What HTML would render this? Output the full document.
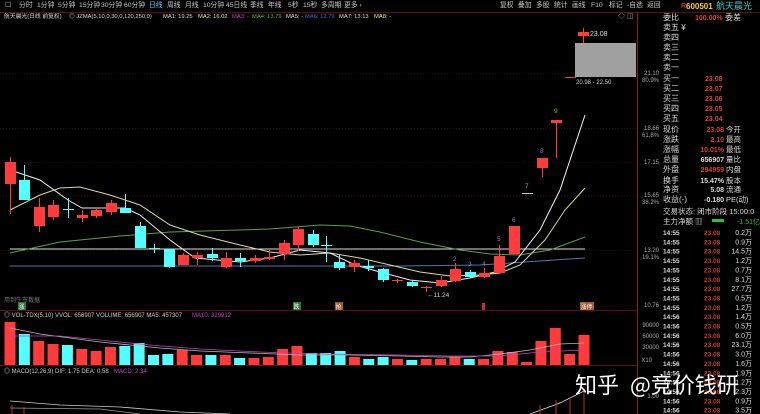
<!DOCTYPE html>
<html><head><meta charset="utf-8"><style>
html,body{margin:0;padding:0;background:#000;width:760px;height:414px;overflow:hidden}
svg{display:block;font-family:"Liberation Sans","Noto Sans CJK SC",sans-serif}
</style></head><body>
<svg width="760" height="414" viewBox="0 0 760 414" xmlns="http://www.w3.org/2000/svg">
<rect width="760" height="414" fill="#000"/>
<g font-size="6.8" fill="#c8c8c8">
<text x="5" y="7">☐</text>
<text x="19" y="7">分时</text><text x="37" y="7">1分钟</text><text x="58" y="7">5分钟</text><text x="79" y="7">15分钟</text><text x="101" y="7">30分钟</text><text x="124" y="7">60分钟</text>
<text x="149" y="7" fill="#6cf">日线</text><text x="167" y="7">周线</text><text x="185" y="7">月线</text><text x="203" y="7">10分钟</text><text x="226" y="7">45日线</text><text x="250" y="7">季线</text><text x="268" y="7">年线</text><text x="288" y="7">5秒</text><text x="303" y="7">15秒</text><text x="321" y="7">多周期</text><text x="344" y="7">更多 ›</text>
<text x="500" y="7">复权</text><text x="518" y="7">叠加</text><text x="536" y="7">多股</text><text x="554" y="7">统计</text><text x="572" y="7">画线</text><text x="591" y="7">F10</text><text x="609" y="7">标记</text><text x="627" y="7">-自选</text><text x="647" y="7">返回</text>
</g>
<text x="681" y="8" font-size="7" fill="#ff5050">R</text>
<text x="686" y="9" font-size="8" fill="#ffd700" font-weight="bold">600501</text>
<text x="716" y="9" font-size="9" fill="#4cc">航天晨光</text>
<g font-size="5.8">
<text x="4" y="18" fill="#ddd">航天晨光(日线 前复权)</text>
<text x="69" y="18" fill="#ddd">◎ JZMA(5,10,0,30,0,120,250,0)</text>
<text x="163" y="18" fill="#ddd">MA1: 19.25</text>
<text x="198" y="18" fill="#e8e890">MA2: 16.02</text>
<text x="232" y="18" fill="#d040d0">MA3: -</text>
<text x="252" y="18" fill="#40c040">MA4: 13.79</text>
<text x="286" y="18" fill="#ddd">MA5: -</text>
<text x="305" y="18" fill="#4070d0">MA6: 12.79</text>
<text x="339" y="18" fill="#ddd">MA7: 13.13</text>
<text x="374" y="18" fill="#e8e890">MA8: -</text>
</g>
<text x="618" y="18" font-size="7" fill="#aaa">◇ ◫</text>
<line x1="637.5" y1="12" x2="637.5" y2="414" stroke="#8a1a1a"/>
<line x1="0" y1="12.5" x2="760" y2="12.5" stroke="#5a1010"/>
<line x1="0" y1="310.5" x2="637" y2="310.5" stroke="#5a1010"/>
<line x1="0" y1="365.5" x2="637" y2="365.5" stroke="#5a1010"/>
<g stroke="#3a0a0a" stroke-dasharray="1,2">
<line x1="0" y1="73.5" x2="637" y2="73.5"/><line x1="0" y1="128.5" x2="637" y2="128.5"/><line x1="0" y1="162.5" x2="637" y2="162.5"/><line x1="0" y1="195.5" x2="637" y2="195.5"/><line x1="0" y1="250.5" x2="637" y2="250.5"/><line x1="0" y1="305.5" x2="637" y2="305.5"/>
</g>
<g font-size="6" fill="#aaa" text-anchor="end">
<text x="659" y="75">21.10</text><text x="659" y="82">80.9%</text>
<text x="659" y="130">18.66</text><text x="659" y="137">61.8%</text>
<text x="659" y="164">17.15</text>
<text x="659" y="197">15.65</text><text x="659" y="204">38.2%</text>
<text x="659" y="252">13.20</text><text x="659" y="259">19.1%</text>
<text x="659" y="307">10.76</text>
<text x="659" y="327">90000</text><text x="659" y="338">60000</text><text x="659" y="349">30000</text><text x="652" y="362">X10</text>
<text x="659" y="398">1.00</text>
</g>
<g fill="none" stroke-width="1">
<polyline stroke="#e0e0e0" points="10,249 585,249"/>
<polyline stroke="#4a7ab0" points="10,266 400,266 480,265 585,258"/>
<polyline stroke="#5aa040" points="10,253 60,242 120,236 170,232 270,229 320,225 350,226 380,232 420,242 460,250 490,254 520,255 550,250 585,237"/>
<polyline stroke="#d8d8a0" points="10,210 40,195 60,188 80,187 110,195 140,205 170,225 200,235 240,245 270,252 300,255 330,253 360,258 390,265 420,272 450,276 480,275 500,273 520,265 545,240 565,210 585,188"/>
<polyline stroke="#f0f0f0" points="10,170 40,180 68,200 82,208 125,208 140,215 170,240 195,258 240,262 270,258 300,250 330,253 355,265 380,272 410,280 440,283 470,278 495,272 515,262 540,230 560,190 585,115"/>
</g>
<g id="c"></g>
<g font-size="6.5" fill="#9a7ad0">
<text x="453" y="261">2</text><text x="468" y="266">3</text><text x="482" y="266">4</text><text x="497" y="241">5</text><text x="512" y="222">6</text><text x="525" y="188" fill="#aaa">7</text><text x="540" y="153">8</text><text x="554" y="113" fill="#5c5">9</text>
</g>
<text x="427" y="297" font-size="6.5" fill="#ccc">←11.24</text>
<rect x="575" y="43" width="61" height="34" fill="#a0a0a0"/>
<text x="576" y="84" font-size="6" fill="#ccc">20.98 - 22.50</text>
<text x="590" y="36" font-size="7" fill="#ddd">23.08</text>
<text x="4" y="302" font-size="6" fill="#777">用到牛市数据</text>
<g font-size="6">
<rect x="18" y="302" width="8" height="8" fill="#2a7a3a"/><text x="18.5" y="309" fill="#fff">涨</text>
<rect x="293" y="302" width="8" height="8" fill="#2a7a3a"/><text x="293.5" y="309" fill="#fff">跌</text>
<rect x="335" y="302" width="8" height="8" fill="#a05a30"/><text x="335.5" y="309" fill="#fff">抢</text>
<rect x="482" y="303" width="3" height="7" fill="#c03030"/>
<rect x="580" y="302" width="14" height="8" fill="#a05a30"/><text x="580.5" y="309" fill="#fff">涨停</text>
</g>
<g font-size="6">
<text x="4" y="317" fill="#ccc">◎ VOL-TDX(5,10) VVOL: 656907 VOLUME: 656907 MA5: 457307</text>
<text x="192" y="317" fill="#c040c0">MA10: 329912</text>
<text x="4" y="373" fill="#ccc">◎ MACD(12,26,9) DIF: 1.75 DEA: 0.58</text>
<text x="114" y="373" fill="#c040c0">MACD: 2.34</text>
</g>
<g id="v"></g>
<polyline fill="none" stroke="#bbb" stroke-width="0.8" points="10,328 40,334 70,338 100,342 130,345 160,348 200,351 250,353 300,355 350,355 400,356 440,357 470,357 500,354 530,350 560,344 584,343"/>
<polyline fill="none" stroke="#c040c0" stroke-width="0.8" points="10,336 60,336 100,340 150,345 200,349 260,352 320,354 400,355 450,356 500,356 540,352 584,350"/>
<polyline fill="none" stroke="#ccc" stroke-width="0.8" points="10,401 60,405 120,407 180,412 230,414"/>
<polyline fill="none" stroke="#999" stroke-width="0.8" points="10,408 100,409 140,414"/>
<polyline fill="none" stroke="#ddd" stroke-width="0.8" points="530,414 560,403 584,391"/>
<g stroke="#c03030"><line x1="556" y1="414" x2="556" y2="400"/><line x1="570" y1="414" x2="570" y2="397"/><line x1="584" y1="414" x2="584" y2="392"/><line x1="540" y1="414" x2="540" y2="405"/><line x1="12" y1="414" x2="12" y2="405"/><line x1="24" y1="414" x2="24" y2="407"/></g>
<g font-size="8" fill="#ddd" id="rp"></g>
<text x="575" y="393" font-size="22" fill="#fff" font-family="'Noto Sans CJK SC',sans-serif">知乎</text>
<text x="630" y="393" font-size="22" fill="#fff" font-family="'Noto Sans CJK SC',sans-serif">@竞价钱研</text>
<script>
var ns="http://www.w3.org/2000/svg";
function el(p,t,a,txt){var e=document.createElementNS(ns,t);for(var k in a)e.setAttribute(k,a[k]);if(txt!=null)e.textContent=txt;p.appendChild(e);return e;}
var R="#ff3b3b",C="#54ffff";
var cd=[[10,162,184,157,214,R],[24,180,200,165,200,C],[39,207,226,198,232,R],[53,205,217,200,220,R],[68,209,209,198,218,C],[82,215,218,210,222,R],[96,210,216,207,218,R],[111,203,212,200,215,R],[125,208,213,194,213,C],[140,226,248,222,248,C],[154,248,248,244,253,C],[169,249,267,249,268,C],[183,255,265,253,265,R],[197,255,258,252,265,R],[212,254,258,248,261,C],[226,258,267,252,268,R],[240,258,261,253,267,C],[255,258,261,255,263,R],[269,257,259,250,260,R],[284,243,254,240,260,R],[298,229,245,227,251,R],[313,234,245,230,247,C],[326,245,245,236,262,C],[339,262,268,255,270,C],[354,263,267,260,272,R],[368,266,268,260,271,C],[383,269,280,268,282,C],[397,280,281,279,283,R],[412,282,286,280,287,C],[426,287,288,286,292,R],[441,280,286,276,287,R],[455,269,281,263,282,R],[470,272,277,270,278,C],[484,273,277,268,278,R],[499,256,273,245,274,R],[514,226,254,226,254,R],[527,193,194,193,194,"#ccc"],[542,158,168,158,177,R],[556,120,123,120,158,R],[570,77,78,77,78,R],[583,32,36,28,43,R]];
var g=document.getElementById("c");
cd.forEach(function(c){el(g,"line",{x1:c[0]+0.5,y1:c[3],x2:c[0]+0.5,y2:c[4],stroke:c[5]});var h=Math.max(1,c[2]-c[1]);el(g,"rect",{x:c[0]-5,y:c[1],width:11,height:h,fill:c[5]});});
var vt=[322,334,341,344,345,349,351,347,346,343,355,354,350,355,355,355,358,358,357,349,346,353,353,351,357,359,357,359,360,359,359,357,359,359,351,352,362,341,328,354,335];
var vc="RCRRCRRRCCCCRRCRCRRRRCCCRCCRCRRRCRRRRRRRR";
var v=document.getElementById("v");
vt.forEach(function(t,i){var x=10+i*14.35;el(v,"rect",{x:x-5.5,y:t,width:11,height:365-t,fill:vc[i]=="R"?R:C});});
var rp=document.getElementById("rp");
var L=[["委比",17],["卖五 ¥",27],["卖四",37],["卖三",47],["卖二",57],["卖一",67],["买一",78],["买二",88],["买三",98],["买四",108],["买五",118],["现价",129],["涨跌",139],["涨幅",149],["总量",159],["外盘",169],["换手",180],["净资",189],["收益(-)",199]];
L.forEach(function(a){el(rp,"text",{x:663,y:a[1]+3},a[0]);});
el(rp,"text",{x:695,y:20,fill:"#e04040","font-size":"7","font-weight":"bold"},"100.00%");
el(rp,"text",{x:725,y:20},"委差");
[78,88,98,108,118].forEach(function(y,i){el(rp,"text",{x:705,y:y+3,fill:"#e04040","font-size":"7","font-weight":"bold"},["23.08","23.07","23.06","23.05","23.04"][i]);});
var V=[["23.08","#e04040","今开"],["2.10","#e04040","最高"],["10.01%","#e04040","最低"],["656907","#ddd","量比"],["294959","#e04040","内盘"],["15.47%","#ddd","股本"],["5.08","#ddd","流通"],["-0.180","#ddd","PE(动)"]];
[129,139,149,159,169,180,189,199].forEach(function(y,i){el(rp,"text",{x:724,y:y+3,fill:V[i][1],"font-size":"7","font-weight":"bold","text-anchor":"end"},V[i][0]);el(rp,"text",{x:726,y:y+3,"font-size":"7.5"},V[i][2]);});
el(rp,"text",{x:663,y:214,"font-size":"7.5"},"交易状态: 闭市阶段 15:00:0");
el(rp,"text",{x:663,y:224,"font-size":"7.5"},"主力净额 ▥");
el(rp,"rect",{x:712,y:219,width:12,height:3,fill:"#2c2"});
el(rp,"text",{x:760,y:224,fill:"#2c2","font-size":"7","text-anchor":"end"},"-1.51亿");
var tr=["0.2","0.9","14.5","1.2","0.7","8.1","27.7","0.5","1.2","1.4","0.5","6.0","23.1","3.0","1.6","1.9","1.2","2.3","0.9","3.5"];
tr.forEach(function(a,i){var y=235+i*9.35;el(rp,"text",{x:663,y:y,"font-size":"6.5","font-weight":"bold"},i<9?"14:55":"14:56");el(rp,"text",{x:704,y:y,"font-size":"6.5",fill:"#d03030","font-weight":"bold"},"23.08");el(rp,"text",{x:752,y:y,"font-size":"7","text-anchor":"end"},a+"万");});
</script>
</svg>
</body></html>
